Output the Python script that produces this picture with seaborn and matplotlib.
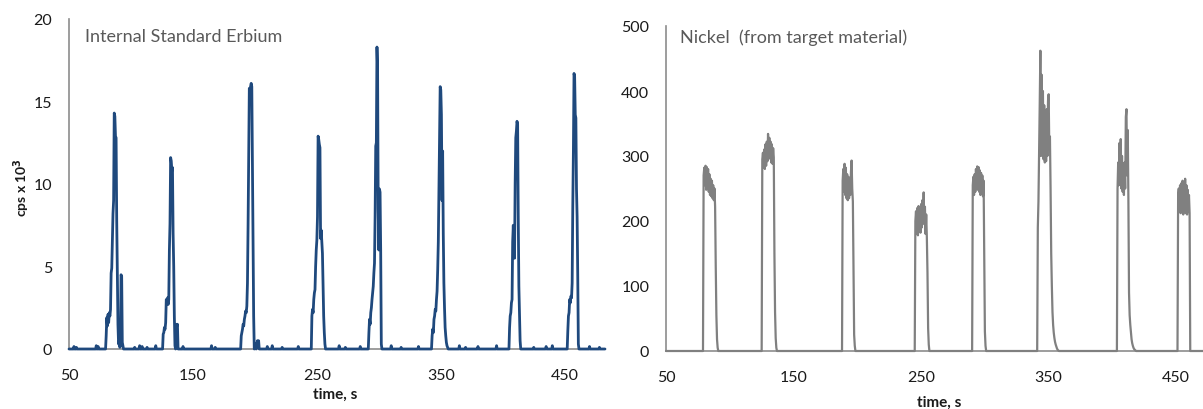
import numpy as np
import pandas as pd
import matplotlib
matplotlib.use("Agg")
import matplotlib.pyplot as plt
import seaborn as sns

# ---------------------------------------------------------------------------
# Laser ablation transients, sampled every 0.5 s
# ---------------------------------------------------------------------------
STEP = 0.5
T0 = 50.0

# Internal standard Erbium, cps x 10^3 (one list per ablation, first sample at start time)
er_starts = [79.5, 125.5, 188.5, 245.5, 291.5, 342.5, 405.0, 452.0]
er_peak1 = [0, 0.8, 1.9, 1.4, 2.1, 1.6, 2.2, 2.0, 2.4, 4.6, 4.9, 6.5, 8.2, 9.0,
            14.3, 14.1, 12.9, 12.8, 7.8, 4.5, 1.5, 0.3, 0.5, 0.1, 0.2, 4.5, 4.4,
            0.4, 0.2, 0]
er_peak2 = [0, 0.9, 1.0, 1.3, 1.2, 1.6, 3.0, 2.8, 3.1, 2.7, 3.0, 6.0, 7.6, 11.6,
            11.4, 10.8, 11.0, 7.0, 5.0, 2.0, 0.2, 0, 1.5, 1.4, 1.5, 0]
er_peak3 = [0, 0.8, 1.0, 1.2, 1.5, 1.4, 1.8, 2.0, 2.3, 2.2, 2.6, 4.0, 7.5, 12.0,
            15.8, 15.6, 15.9, 16.1, 15.9, 11.0, 6.0, 2.0, 0, 0.1, 0.3, 0, 0.2,
            0.5, 0.1, 0.5, 0]
er_peak4 = [0, 2.0, 2.4, 2.2, 3.0, 3.4, 3.6, 5.0, 6.0, 6.6, 8.0, 12.9, 12.7, 12.4,
            12.2, 6.7, 7.2, 6.5, 5.8, 4.0, 2.0, 1.0, 0.3, 0]
er_peak5 = [0, 1.0, 1.8, 1.5, 2.2, 2.5, 3.0, 3.4, 3.8, 4.6, 5.2, 8.0, 12.3, 12.5,
            18.3, 17.0, 8.5, 6.0, 9.7, 9.5, 6.0, 0.3, 0]
er_peak6 = [0, 0.8, 1.2, 1.0, 1.8, 2.0, 2.4, 2.3, 3.0, 3.5, 4.8, 6.5, 9.8, 13.0,
            15.9, 15.7, 14.2, 9.0, 12.0, 7.0, 4.0, 2.5, 1.3, 0.8, 0.4, 0.2, 0.1, 0]
er_peak7 = [0, 1.3, 2.0, 2.2, 2.8, 3.0, 6.5, 7.5, 6.0, 5.5, 10.0, 12.8, 13.2, 13.8,
            13.6, 8.0, 3.8, 2.0, 0.5, 0]
er_peak8 = [0, 1.1, 2.0, 2.2, 3.0, 2.8, 3.2, 3.1, 4.0, 8.6, 12.0, 16.7, 16.5, 14.2,
            14.0, 9.7, 8.0, 4.5, 0.3, 0]
er_blip_times = [54, 56, 72, 73.5, 103, 107, 109, 113, 120, 142, 165, 168, 210,
                 214, 222, 235, 268, 273, 285, 310, 318, 332, 365, 370, 380, 395,
                 425, 435, 440, 470, 478]
er_blip_values = [0.15, 0.1, 0.2, 0.15, 0.1, 0.2, 0.15, 0.1, 0.2, 0.15, 0.2, 0.1,
                  0.15, 0.2, 0.1, 0.15, 0.2, 0.1, 0.15, 0.2, 0.1, 0.15, 0.2, 0.1,
                  0.15, 0.2, 0.1, 0.15, 0.2, 0.15, 0.1]
er_end = 482.5

# Nickel from the target material, cps
ni_starts = [79.0, 125.0, 188.0, 245.0, 290.0, 341.0, 403.5, 451.0]
ni_peak1 = [0, 270, 282, 255, 285, 248, 283, 250, 280, 245, 272, 240, 265, 238,
            262, 235, 255, 232, 250, 222, 130, 55, 18, 5, 0]
ni_peak2 = [0, 295, 305, 282, 310, 280, 318, 285, 322, 292, 334, 300, 328, 296,
            322, 290, 318, 288, 312, 298, 150, 60, 20, 5, 0]
ni_peak3 = [0, 262, 280, 245, 288, 240, 282, 235, 272, 232, 268, 235, 260, 240,
            275, 293, 250, 230, 120, 25, 8, 0]
ni_peak4 = [0, 200, 215, 180, 220, 178, 223, 185, 218, 182, 226, 190, 232, 200,
            244, 195, 222, 180, 210, 175, 120, 35, 10, 0]
ni_peak5 = [0, 255, 268, 240, 272, 245, 280, 250, 284, 248, 283, 245, 278, 240,
            274, 242, 270, 238, 262, 150, 30, 8, 0]
ni_peak6 = [0, 190, 230, 300, 380, 462, 300, 425, 310, 400, 295, 378, 290, 360,
            292, 372, 300, 385, 395, 310, 330, 250, 150, 100, 60, 40, 28, 20, 14,
            10, 7, 4, 2, 1, 0]
ni_peak7 = [0, 250, 290, 255, 320, 260, 326, 250, 300, 245, 275, 240, 290, 250,
            360, 372, 270, 340, 235, 90, 55, 40, 28, 18, 12, 8, 5, 3, 2, 1, 0]
ni_peak8 = [0, 240, 250, 215, 255, 212, 258, 218, 262, 210, 260, 215, 265, 212,
            255, 210, 248, 215, 240, 212, 0]
ni_end = 471.0

# Axis ticks
er_yticks = [0, 5, 10, 15, 20]
ni_yticks = [0, 100, 200, 300, 400, 500]
time_ticks = [50, 150, 250, 350, 450]


def build_series(end, starts, peaks, blip_times=(), blip_values=()):
    time = np.round(np.arange(T0, end + STEP / 2, STEP), 2)
    signal = np.zeros_like(time)
    for bt, bv in zip(blip_times, blip_values):
        signal[int(round((bt - T0) / STEP))] = bv
    for start, vals in zip(starts, peaks):
        i0 = int(round((start - T0) / STEP))
        signal[i0:i0 + len(vals)] = vals
    return pd.DataFrame({"time": time, "signal": signal})


er_df = build_series(er_end, er_starts,
                     [er_peak1, er_peak2, er_peak3, er_peak4,
                      er_peak5, er_peak6, er_peak7, er_peak8],
                     er_blip_times, er_blip_values)
ni_df = build_series(ni_end, ni_starts,
                     [ni_peak1, ni_peak2, ni_peak3, ni_peak4,
                      ni_peak5, ni_peak6, ni_peak7, ni_peak8])

# ---------------------------------------------------------------------------
# Figure
# ---------------------------------------------------------------------------
sns.set_theme(style="white")
plt.rcParams["font.family"] = ["Lato", "DejaVu Sans"]

W, H = 1203, 410
fig = plt.figure(figsize=(W / 100, H / 100), dpi=100)
ax_er = fig.add_axes([69 / W, 1 - 350 / H, 536 / W, 330 / H])
ax_ni = fig.add_axes([666 / W, 1 - 352 / H, 537 / W, 325 / H])

AXIS_GREY = "#8c8c8c"
TEXT_GREY = "#595959"
TICK_COLOR = "#1a1a1a"

sns.lineplot(data=er_df, x="time", y="signal", ax=ax_er, color="#1f497d",
             linewidth=2.0, clip_on=False, zorder=3)
sns.lineplot(data=ni_df, x="time", y="signal", ax=ax_ni, color="#808080",
             linewidth=1.6, clip_on=False, zorder=3)

for ax, yticks, xmax in ((ax_er, er_yticks, er_end), (ax_ni, ni_yticks, ni_end)):
    ax.set_xlim(T0, xmax)
    ax.set_ylim(yticks[0], yticks[-1])
    ax.set_yticks(yticks)
    ax.set_xticks(time_ticks)
    ax.set_xlabel("")
    ax.set_ylabel("")
    sns.despine(ax=ax)
    for side in ("left", "bottom"):
        ax.spines[side].set_color(AXIS_GREY)
        ax.spines[side].set_linewidth(1.2)
    ax.tick_params(axis="both", length=0, labelsize=11.5, colors=TICK_COLOR)
    ax.tick_params(axis="y", pad=12)
    ax.tick_params(axis="x", pad=14)
    ax.patch.set_alpha(0)

ax_er.text(85 / W, 1 - 37 / H, "Internal Standard Erbium", transform=fig.transFigure,
           ha="left", va="center", fontsize=13, color=TEXT_GREY)
ax_ni.text(680 / W, 1 - 38 / H, "Nickel  (from target material)",
           transform=fig.transFigure, ha="left", va="center", fontsize=13,
           color=TEXT_GREY)

fig.text(22 / W, 1 - 188 / H, "cps x 10$^{\\mathbf{3}}$", rotation=90, ha="center",
         va="center", fontsize=10, fontweight="bold", color=TICK_COLOR)
fig.text(335 / W, 1 - 395 / H, "time, s", ha="center", va="center", fontsize=11,
         fontweight="bold", color=TICK_COLOR)
fig.text(939 / W, 1 - 403 / H, "time, s", ha="center", va="center", fontsize=11,
         fontweight="bold", color=TICK_COLOR)

fig.savefig("out.png", dpi=100, facecolor="white")
